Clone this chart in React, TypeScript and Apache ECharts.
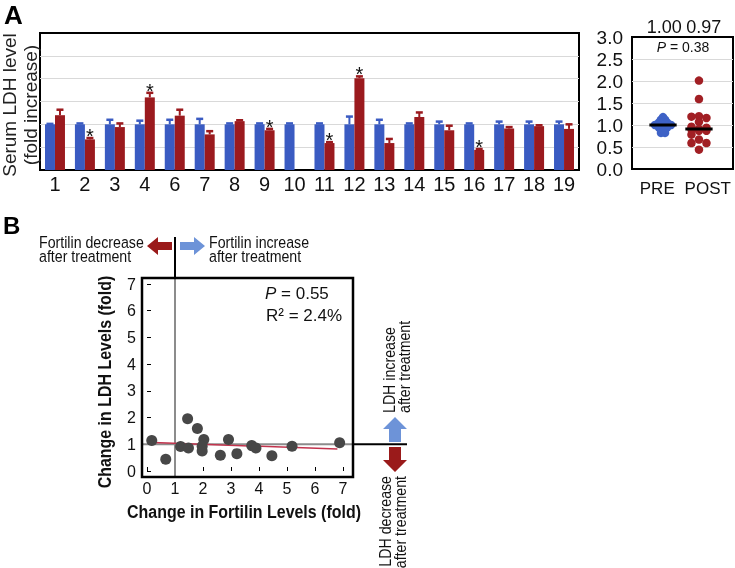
import React, { useEffect, useRef } from 'react';
import * as echarts from 'echarts';

const FF = "'Liberation Sans', Arial, Helvetica, sans-serif";

// ---------- Panel A: bar chart ----------
const subjects = ['1', '2', '3', '4', '6', '7', '8', '9', '10', '11', '12', '13', '14', '15', '16', '17', '18', '19'];
const preMean = [1, 1, 1, 1, 1, 1, 1, 1, 1, 1, 1, 1, 1, 1, 1, 1, 1, 1];
const preErr = [0.01, 0.02, 0.1, 0.08, 0.1, 0.12, 0.02, 0.02, 0.02, 0.02, 0.17, 0.1, 0.02, 0.06, 0.02, 0.06, 0.06, 0.06];
const postMean = [1.2, 0.67, 0.94, 1.59, 1.19, 0.78, 1.07, 0.87, null, 0.59, 2.01, 0.59, 1.16, 0.87, 0.44, 0.91, 0.96, 0.9];
const postErr = [0.12, 0.03, 0.08, 0.1, 0.13, 0.07, 0.02, 0.03, null, 0.02, 0.04, 0.09, 0.1, 0.1, 0.02, 0.03, 0.02, 0.1];
const postSig = [false, true, false, true, false, false, false, true, false, true, true, false, false, false, true, false, false, false];

// ---------- Panel A: dot plot ----------
const groupLabels = ['PRE', 'POST'];
const groupMeanLabels = ['1.00', '0.97'];
const preDots = [1.18, 1.12, 1.12, 1.06, 1.06, 1.06, 1.0, 1.0, 1.0, 1.0, 1.0, 0.94, 0.94, 0.94, 0.88, 0.88, 0.82, 0.82];
const pValueA = '0.38';

// ---------- Panel B: scatter ----------
const fortilinChange = [0.17, 0.67, 1.45, 1.2, 1.48, 1.8, 2.03, 1.97, 1.97, 2.62, 2.91, 3.21, 3.74, 3.89, 4.46, 5.18, 6.88];
const ldhChange = [1.14, 0.44, 1.96, 0.92, 0.86, 1.59, 1.18, 0.93, 0.75, 0.59, 1.18, 0.65, 0.95, 0.86, 0.57, 0.93, 1.06];
const fitX = [0.22, 6.8];
const fitY = [1.07, 0.82];
const pValueB = '0.55';
const r2B = '2.4%';

// ---------- styles / layout ----------
const BLUE_BAR = '#3a5bc2';
const RED_BAR = '#9b1a1e';
const BLUE_DOT = '#3e62c6';
const RED_DOT = '#a11f24';
const ARROW_RED = '#9a1a1a';
const ARROW_BLUE = '#6d93d8';
const BW = 10;
const PRE_C = 0.307;
const POST_C = 0.663;
const MED_HALF = 0.135;
const LABEL_X = [0.32, 0.71];

function median(a: number[]) {
  const s = a.slice().sort((x, y) => x - y);
  const m = Math.floor(s.length / 2);
  return s.length % 2 ? s[m] : (s[m - 1] + s[m]) / 2;
}

// equal values are laid side by side, centred on the group position
function rowLayout(values: number[], center: number, s: number, pxX: number) {
  const groups = new Map<number, number>();
  values.forEach((v) => groups.set(v, (groups.get(v) || 0) + 1));
  const out: number[][] = [];
  groups.forEach((n, v) => {
    for (let j = 0; j < n; j++) out.push([center + ((j - (n - 1) / 2) * s) / pxX, v]);
  });
  return out;
}

// three-column swarm: a dot takes the first free column, else the least crowded one
function columnSwarm(values: number[], center: number, s: number, d: number, pxX: number, pxY: number) {
  const cols = [0, -s, s];
  const placed: { x: number; y: number }[] = [];
  const out: number[][] = [];
  const sorted = values.slice().sort((a, b) => b - a);
  for (const v of sorted) {
    const y = v * pxY;
    let best = 0;
    let bestD = -1;
    for (const c of cols) {
      const md = placed.reduce((m, p) => Math.min(m, Math.hypot(p.x - c, p.y - y)), Infinity);
      if (md >= d) { best = c; bestD = Infinity; break; }
      if (md > bestD) { bestD = md; best = c; }
    }
    placed.push({ x: best, y });
    out.push([center + best / pxX, v]);
  }
  return out;
}

function errRender(sign: number, color: string) {
  return (params: any, api: any) => {
    const i = api.value(0);
    const v = api.value(1);
    const e = api.value(2);
    const s = api.value(3);
    const p0 = api.coord([i, v]);
    const p1 = api.coord([i, v + e]);
    const x = p0[0] + (sign * BW) / 2;
    const children: any[] = [
      { type: 'line', shape: { x1: x, y1: p0[1], x2: x, y2: p1[1] }, style: { stroke: color, lineWidth: 2 } },
      { type: 'line', shape: { x1: x - 3.5, y1: p1[1], x2: x + 3.5, y2: p1[1] }, style: { stroke: color, lineWidth: 2.5 } },
    ];
    if (s) {
      children.push({
        type: 'text',
        style: {
          text: '*', x, y: p1[1] - 2, fontSize: 20, fontFamily: FF, fill: '#111',
          align: 'center', verticalAlign: 'middle', textAlign: 'center', textVerticalAlign: 'middle',
        },
      });
    }
    return { type: 'group', children };
  };
}

function T(text: string, x: number, y: number, o: any = {}) {
  const align = o.align || 'left';
  const va = o.va || 'middle';
  return {
    type: 'text', x, y, rotation: o.rotation || 0, scaleX: o.scaleX || 1, z: 20,
    style: {
      text, fontFamily: FF, fontSize: o.fontSize || 16, fontWeight: o.fontWeight || 'normal',
      fontStyle: o.fontStyle || 'normal', fill: o.fill || '#111',
      align, verticalAlign: va, textAlign: align, textVerticalAlign: va,
      lineHeight: o.lineHeight, rich: o.rich,
    },
  };
}

export default function App() {
  const ref = useRef<HTMLDivElement>(null);
  useEffect(() => {
    const chart = echarts.init(ref.current as HTMLDivElement, null, { renderer: 'svg' });
    const postVals = postMean.filter((v) => v != null) as number[];
    const preDotData = rowLayout(preDots, PRE_C, 4, 101);
    const postDotData = columnSwarm(postVals, POST_C, 7.5, 6, 101, 44);
    const medPre = median(preDots);
    const medPost = median(postVals);

    const option: any = {
      animation: false,
      textStyle: { fontFamily: FF },
      grid: [
        { left: 40, top: 33, width: 539, height: 137, show: true, borderColor: '#000', borderWidth: 2 },
        { left: 147, top: 284, width: 196, height: 187 },
        { left: 632, top: 37, width: 101, height: 132, show: true, borderColor: '#000', borderWidth: 2 },
      ],
      xAxis: [
        {
          gridIndex: 0, type: 'category', data: subjects,
          axisLine: { show: false }, axisTick: { show: false },
          axisLabel: { interval: 0, fontSize: 20, color: '#111', margin: 4 },
        },
        {
          gridIndex: 1, type: 'value', min: 0, max: 7, interval: 1, offset: 6,
          axisLine: { show: false },
          axisTick: { show: true, inside: true, length: 4, lineStyle: { color: '#000' } },
          axisLabel: { fontSize: 16, color: '#111', margin: 3 },
          splitLine: { show: false },
        },
        {
          gridIndex: 2, type: 'category', data: groupLabels,
          axisLine: { show: false }, axisTick: { show: false },
          axisLabel: { interval: 0, fontSize: 17, color: '#111', margin: 11, hideOverlap: false },
        },
        { gridIndex: 2, type: 'value', min: 0, max: 1, show: false },
      ],
      yAxis: [
        {
          gridIndex: 0, type: 'value', min: 0, max: 3, interval: 0.5,
          axisLabel: { show: false }, axisLine: { show: false }, axisTick: { show: false },
          splitLine: { lineStyle: { color: '#d9d9d9' }, showMinLine: false, showMaxLine: false },
        },
        {
          gridIndex: 1, type: 'value', min: 0, max: 7, interval: 1, offset: 5,
          axisLine: { show: false },
          axisTick: { show: true, inside: true, length: 4, lineStyle: { color: '#000' } },
          axisLabel: { fontSize: 16, color: '#111', margin: 6 },
          splitLine: { show: false },
        },
        {
          gridIndex: 2, type: 'value', min: 0, max: 3, interval: 0.5,
          axisLine: { show: false }, axisTick: { show: false },
          axisLabel: { fontSize: 19, color: '#111', margin: 9, formatter: (v: number) => v.toFixed(1) },
          splitLine: { lineStyle: { color: '#d9d9d9' }, showMinLine: false, showMaxLine: false },
        },
      ],
      series: [
        { type: 'bar', xAxisIndex: 0, yAxisIndex: 0, data: preMean, barWidth: BW, barGap: '0%', itemStyle: { color: BLUE_BAR } },
        {
          type: 'bar', xAxisIndex: 0, yAxisIndex: 0, data: postMean.map((v) => (v == null ? '-' : v)),
          barWidth: BW, barGap: '0%', itemStyle: { color: RED_BAR },
        },
        {
          type: 'custom', xAxisIndex: 0, yAxisIndex: 0, renderItem: errRender(-1, BLUE_BAR), encode: { x: 0, y: 1 }, z: 3,
          data: preMean.map((v, i) => [i, v, preErr[i], 0]),
        },
        {
          type: 'custom', xAxisIndex: 0, yAxisIndex: 0, renderItem: errRender(1, RED_BAR), encode: { x: 0, y: 1 }, z: 3,
          data: postMean
            .map((v, i) => (v == null ? null : [i, v, postErr[i] as number, postSig[i] ? 1 : 0]))
            .filter((d) => d != null),
        },
        {
          type: 'line', xAxisIndex: 1, yAxisIndex: 1, data: fitX.map((x, i) => [x, fitY[i]]),
          symbol: 'none', lineStyle: { color: '#c2334d', width: 1.5 }, z: 4,
        },
        {
          type: 'scatter', xAxisIndex: 1, yAxisIndex: 1, data: fortilinChange.map((x, i) => [x, ldhChange[i]]),
          symbolSize: 11, itemStyle: { color: '#474747', opacity: 1 }, z: 5,
        },
        { type: 'scatter', xAxisIndex: 3, yAxisIndex: 2, data: preDotData, symbolSize: 8.5, itemStyle: { color: BLUE_DOT, opacity: 1 }, z: 4 },
        { type: 'scatter', xAxisIndex: 3, yAxisIndex: 2, data: postDotData, symbolSize: 8.5, itemStyle: { color: RED_DOT, opacity: 1 }, z: 4 },
        {
          type: 'line', xAxisIndex: 3, yAxisIndex: 2, data: [[PRE_C - MED_HALF, medPre], [PRE_C + MED_HALF, medPre]],
          symbol: 'none', lineStyle: { color: '#000', width: 3 }, z: 6,
        },
        {
          type: 'line', xAxisIndex: 3, yAxisIndex: 2, data: [[POST_C - MED_HALF, medPost], [POST_C + MED_HALF, medPost]],
          symbol: 'none', lineStyle: { color: '#000', width: 3 }, z: 6,
        },
      ],
    };
    chart.setOption(option);

    const pt = chart.convertToPixel({ gridIndex: 1 }, [1, 1]) as number[];
    const vx = pt[0];
    const hy = pt[1];
    const lx0 = chart.convertToPixel({ xAxisIndex: 3 }, LABEL_X[0]) as number;
    const lx1 = chart.convertToPixel({ xAxisIndex: 3 }, LABEL_X[1]) as number;
    const boxL = 142, boxT = 278, boxR = 353, boxB = 477;
    const cond = 0.86;

    const graphic: any[] = [
      // panel letters
      T('A', 4, 15, { fontSize: 26, fontWeight: 'bold', fill: '#000' }),
      T('B', 3, 225, { fontSize: 24, fontWeight: 'bold', fill: '#000' }),
      // panel A y title
      T('Serum LDH level\n(fold increase)', 20, 105, { rotation: Math.PI / 2, align: 'center', fontSize: 19, lineHeight: 21, fill: '#222' }),
      // dot plot labels
      T(groupMeanLabels[0], lx0, 27, { align: 'center', fontSize: 18 }),
      T(groupMeanLabels[1], lx1, 27, { align: 'center', fontSize: 18 }),
      T('{i|P} = ' + pValueA, 683, 47, { align: 'center', fontSize: 14, rich: { i: { fontStyle: 'italic', fontSize: 14, fontFamily: FF } } }),
      // panel B box
      {
        type: 'rect', z: 12, shape: { x: boxL, y: boxT, width: boxR - boxL, height: boxB - boxT },
        style: { fill: 'none', stroke: '#000', lineWidth: 2.5 },
      },
      // reference lines inside (gray) and outside (black)
      { type: 'line', z: 1, shape: { x1: vx, y1: boxT, x2: vx, y2: boxB }, style: { stroke: '#8c8c8c', lineWidth: 2 } },
      { type: 'line', z: 1, shape: { x1: boxL, y1: hy, x2: boxR, y2: hy }, style: { stroke: '#8c8c8c', lineWidth: 2 } },
      { type: 'line', z: 12, shape: { x1: vx, y1: 237, x2: vx, y2: boxT }, style: { stroke: '#000', lineWidth: 2 } },
      { type: 'line', z: 12, shape: { x1: boxR, y1: hy, x2: 407, y2: hy }, style: { stroke: '#000', lineWidth: 2 } },
      // horizontal arrows
      {
        type: 'polygon', z: 12, style: { fill: ARROW_RED },
        shape: { points: [[147, 246], [158, 237], [158, 242], [172, 242], [172, 250], [158, 250], [158, 255]] },
      },
      {
        type: 'polygon', z: 12, style: { fill: ARROW_BLUE },
        shape: { points: [[205, 246], [194, 237], [194, 242], [180, 242], [180, 250], [194, 250], [194, 255]] },
      },
      // vertical arrows
      {
        type: 'polygon', z: 12, style: { fill: ARROW_BLUE },
        shape: { points: [[395, 417], [383, 429], [389, 429], [389, 442], [401, 442], [401, 429], [407, 429]] },
      },
      {
        type: 'polygon', z: 12, style: { fill: ARROW_RED },
        shape: { points: [[395, 472], [383, 460], [389, 460], [389, 447], [401, 447], [401, 460], [407, 460]] },
      },
      // arrow texts
      T('Fortilin decrease\nafter treatment', 39, 249, { fontSize: 16.5, lineHeight: 14.5, scaleX: cond, fill: '#111' }),
      T('Fortilin increase\nafter treatment', 209, 249, { fontSize: 16.5, lineHeight: 14.5, scaleX: cond, fill: '#111' }),
      T('LDH increase\nafter treatment', 397, 413, { rotation: Math.PI / 2, fontSize: 16.5, lineHeight: 15, scaleX: cond, fill: '#111' }),
      T('LDH decrease\nafter treatment', 393, 476, { rotation: Math.PI / 2, align: 'right', fontSize: 16.5, lineHeight: 15, scaleX: cond, fill: '#111' }),
      // stats
      T('{i|P} = ' + pValueB, 265, 293, { fontSize: 17, rich: { i: { fontStyle: 'italic', fontSize: 17, fontFamily: FF } } }),
      T('R\u00B2 = ' + r2B, 266, 315, { fontSize: 17 }),
      // axis titles panel B
      T('Change in Fortilin Levels (fold)', 244, 512, { align: 'center', fontSize: 19, fontWeight: 'bold', scaleX: 0.84, fill: '#111' }),
      T('Change in LDH Levels (fold)', 105, 382, { rotation: Math.PI / 2, align: 'center', fontSize: 19, fontWeight: 'bold', scaleX: 0.84, fill: '#111' }),
    ];
    chart.setOption({ graphic });
    return () => chart.dispose();
  }, []);
  return <div ref={ref} style={{ position: 'fixed', left: 0, top: 0, width: 735, height: 568 }} />;
}
